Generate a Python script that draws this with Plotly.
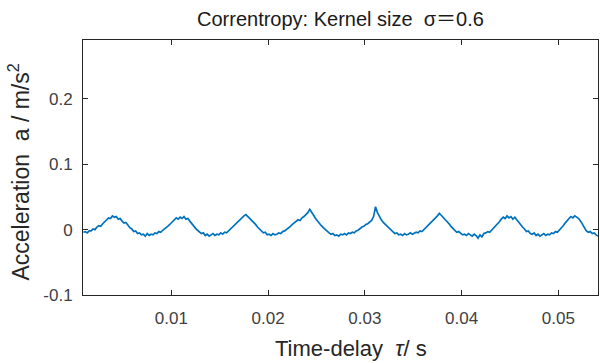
import numpy as np
import plotly.graph_objects as go

# sampled time-delay axis (s)
tau_start = 0.0009
tau_step = 0.0002

# correntropy / acceleration values (m/s^2)
accel = [
    -0.004, -0.003, -0.005, -0.002, -0.002, 0.001, 0.000, 0.004, 0.006, 0.005,
    0.009, 0.012, 0.014, 0.018, 0.017, 0.021, 0.019, 0.020, 0.016, 0.017,
    0.013, 0.010, 0.011, 0.006, 0.003, 0.001, -0.003, -0.002, -0.006, -0.005,
    -0.008, -0.007, -0.010, -0.006, -0.009, -0.007, -0.008, -0.005, -0.006, -0.003,
    -0.004, -0.001, 0.001, 0.003, 0.006, 0.009, 0.012, 0.015, 0.018, 0.016,
    0.019, 0.017, 0.020, 0.016, 0.017, 0.013, 0.009, 0.006, 0.002, -0.001,
    -0.004, -0.006, -0.005, -0.009, -0.007, -0.010, -0.008, -0.006, -0.009, -0.007,
    -0.008, -0.005, -0.007, -0.004, -0.005, -0.002, 0.001, 0.003, 0.006, 0.009,
    0.012, 0.016, 0.019, 0.021, 0.023, 0.020, 0.018, 0.015, 0.011, 0.008,
    0.004, 0.001, -0.002, -0.005, -0.004, -0.008, -0.007, -0.009, -0.006, -0.008,
    -0.007, -0.005, -0.006, -0.003, -0.002, 0.000, 0.003, 0.005, 0.008, 0.010,
    0.012, 0.015, 0.014, 0.018, 0.020, 0.023, 0.026, 0.031, 0.027, 0.022,
    0.017, 0.013, 0.010, 0.006, 0.003, 0.000, -0.003, -0.005, -0.007, -0.006,
    -0.009, -0.008, -0.010, -0.007, -0.008, -0.006, -0.008, -0.005, -0.006, -0.004,
    -0.005, -0.002, -0.001, 0.002, 0.004, 0.005, 0.008, 0.009, 0.012, 0.014,
    0.020, 0.035, 0.026, 0.020, 0.015, 0.011, 0.008, 0.005, 0.002, -0.001,
    -0.004, -0.006, -0.005, -0.008, -0.007, -0.009, -0.006, -0.008, -0.007, -0.005,
    -0.007, -0.006, -0.004, -0.005, -0.002, -0.003, 0.000, 0.002, 0.005, 0.008,
    0.011, 0.014, 0.018, 0.021, 0.025, 0.022, 0.019, 0.015, 0.012, 0.009,
    0.005, 0.002, -0.001, -0.004, -0.003, -0.006, -0.008, -0.007, -0.009, -0.006,
    -0.008, -0.010, -0.007, -0.009, -0.013, -0.008, -0.011, -0.006, -0.005, -0.003,
    -0.004, -0.001, 0.002, 0.005, 0.008, 0.012, 0.016, 0.019, 0.017, 0.021,
    0.018, 0.020, 0.016, 0.019, 0.015, 0.011, 0.007, 0.004, 0.001, -0.003,
    -0.002, -0.006, -0.007, -0.005, -0.009, -0.007, -0.010, -0.008, -0.006, -0.009,
    -0.007, -0.008, -0.005, -0.006, -0.003, -0.004, -0.001, 0.003, 0.006, 0.010,
    0.014, 0.017, 0.020, 0.018, 0.021, 0.019, 0.017, 0.013, 0.008, 0.003,
    -0.002, -0.004, -0.003, -0.006, -0.005, -0.008, -0.010,
]

x_ticks = [0.01, 0.02, 0.03, 0.04, 0.05]
x_tick_labels = ["0.01", "0.02", "0.03", "0.04", "0.05"]
y_ticks = [-0.1, 0, 0.1, 0.2]
y_tick_labels = ["-0.1", "0", "0.1", "0.2"]
x_range = [0.00086, 0.0541]
y_range = [-0.1, 0.29]

title_text = "Correntropy: Kernel size  σ＝0.6"
x_title = "Time-delay  <i>τ</i>/ s"
y_title = "Acceleration  a / m/s<sup>2</sup>"

tau = tau_start + tau_step * np.arange(len(accel))

FONT = "Liberation Sans, Arial, Noto Sans CJK SC, sans-serif"
AX = "#262626"

fig = go.Figure()
fig.add_trace(go.Scatter(x=tau, y=accel, mode="lines",
                         line=dict(color="#0072BD", width=1.7),
                         showlegend=False, hoverinfo="skip"))

axis_common = dict(showgrid=False, zeroline=False, showline=True,
                   linecolor=AX, linewidth=1, mirror="ticks",
                   ticks="inside", ticklen=5, tickwidth=1, tickcolor=AX,
                   tickfont=dict(family=FONT, size=17, color="#404040"))

fig.update_xaxes(range=x_range, tickvals=x_ticks, ticktext=x_tick_labels,
                 ticklabelstandoff=8, **axis_common)
fig.update_yaxes(range=y_range, tickvals=y_ticks, ticktext=y_tick_labels,
                 ticklabelstandoff=6, **axis_common)

fig.update_layout(
    width=600, height=363,
    margin=dict(l=83, r=2, t=40, b=68, autoexpand=False),
    paper_bgcolor="white", plot_bgcolor="white",
    font=dict(family=FONT, color=AX),
    annotations=[
        dict(text=title_text, xref="paper", yref="paper", x=0.5, y=1.0,
             yshift=21, showarrow=False, xanchor="center", yanchor="middle",
             font=dict(family=FONT, size=20, color="#1a1a1a")),
        dict(text=x_title, xref="paper", yref="paper", x=0.52, y=0,
             yshift=-53, showarrow=False, xanchor="center", yanchor="middle",
             font=dict(family=FONT, size=22, color="#262626")),
        dict(text=y_title, xref="paper", yref="paper", x=0, y=0.48,
             xshift=-64, showarrow=False, xanchor="center", yanchor="middle",
             textangle=-90,
             font=dict(family=FONT, size=23, color="#262626")),
    ],
)

fig.write_html("out.html")
